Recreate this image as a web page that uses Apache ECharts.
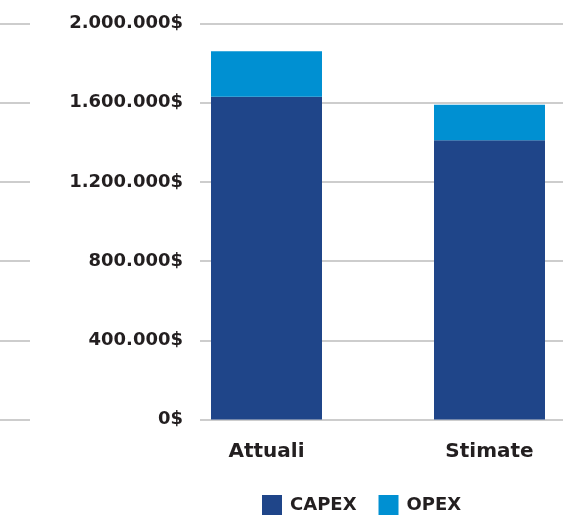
<!DOCTYPE html>
<html>
<head>
<meta charset="utf-8">
<script src="https://cdn.jsdelivr.net/npm/echarts@6/dist/echarts.min.js"></script>
<style>
  html, body { margin: 0; padding: 0; background: #fff; }
  #chart { width: 563px; height: 518px; }
</style>
</head>
<body>
<div id="chart"></div>
<script>
// data
const categories = ['Attuali', 'Stimate'];
const capex = [1630000, 1410000];
const opex = [230000, 180000];
const yTicks = [0, 400000, 800000, 1200000, 1600000, 2000000];

const FONT = '"DejaVu Sans", sans-serif';
const TEXT = '#231f20';
const GRID_LINE = '#bdbdbd';

function money(v) {
    // 1600000 -> 1.600.000$
    return String(v).replace(/\B(?=(\d{3})+(?!\d))/g, '.') + '$';
}

const chart = echarts.init(document.getElementById('chart'), null, { renderer: 'canvas' });

const yMax = yTicks[yTicks.length - 1];
const yStep = yTicks[1] - yTicks[0];
const gridTop = 23.5, gridBottom = 98.5;

const splitY = (idx, showLabel) => ({
    type: 'value',
    gridIndex: idx,
    min: 0,
    max: yMax,
    interval: yStep,
    axisLine: { show: false },
    axisTick: { show: false },
    splitLine: { show: showLabel !== null, lineStyle: { color: GRID_LINE, width: 1.5 } },
    axisLabel: showLabel ? {
        show: true,
        margin: 17,
        formatter: money,
        fontFamily: FONT,
        fontWeight: 'bold',
        fontSize: 18,
        color: TEXT
    } : { show: false }
});

chart.setOption({
    animation: false,
    grid: [
        // short stub of gridline on the far left
        { left: 0, width: 30, top: gridTop, bottom: gridBottom },
        // gridlines + labels
        { left: 200, right: 0, top: gridTop, bottom: gridBottom },
        // bars: categories sit on the two edges of this grid
        { left: 266.5, width: 223, top: gridTop, bottom: gridBottom }
    ],
    xAxis: [
        { type: 'category', gridIndex: 0, data: [''], show: false },
        { type: 'category', gridIndex: 1, data: [''], show: false },
        {
            type: 'category',
            gridIndex: 2,
            data: categories,
            boundaryGap: false,
            axisLine: { show: false },
            axisTick: { show: false },
            axisLabel: {
                margin: 22,
                fontFamily: FONT,
                fontWeight: 'bold',
                fontSize: 20,
                color: TEXT
            }
        }
    ],
    yAxis: [
        splitY(0, false),
        splitY(1, true),
        splitY(2, null)
    ],
    legend: {
        left: 257,
        top: 490,
        itemWidth: 20,
        itemHeight: 20,
        itemGap: 22,
        icon: 'rect',
        textStyle: {
            fontFamily: FONT,
            fontWeight: 'bold',
            fontSize: 18,
            color: TEXT,
            padding: [0, 0, 0, 3]
        },
        data: ['CAPEX', 'OPEX']
    },
    series: [
        {
            name: 'CAPEX',
            type: 'bar',
            stack: 'tot',
            xAxisIndex: 2,
            yAxisIndex: 2,
            barWidth: 111,
            itemStyle: { color: '#1f4589' },
            data: capex
        },
        {
            name: 'OPEX',
            type: 'bar',
            stack: 'tot',
            xAxisIndex: 2,
            yAxisIndex: 2,
            barWidth: 111,
            itemStyle: { color: '#0090d2' },
            data: opex
        }
    ]
});
</script>
</body>
</html>
